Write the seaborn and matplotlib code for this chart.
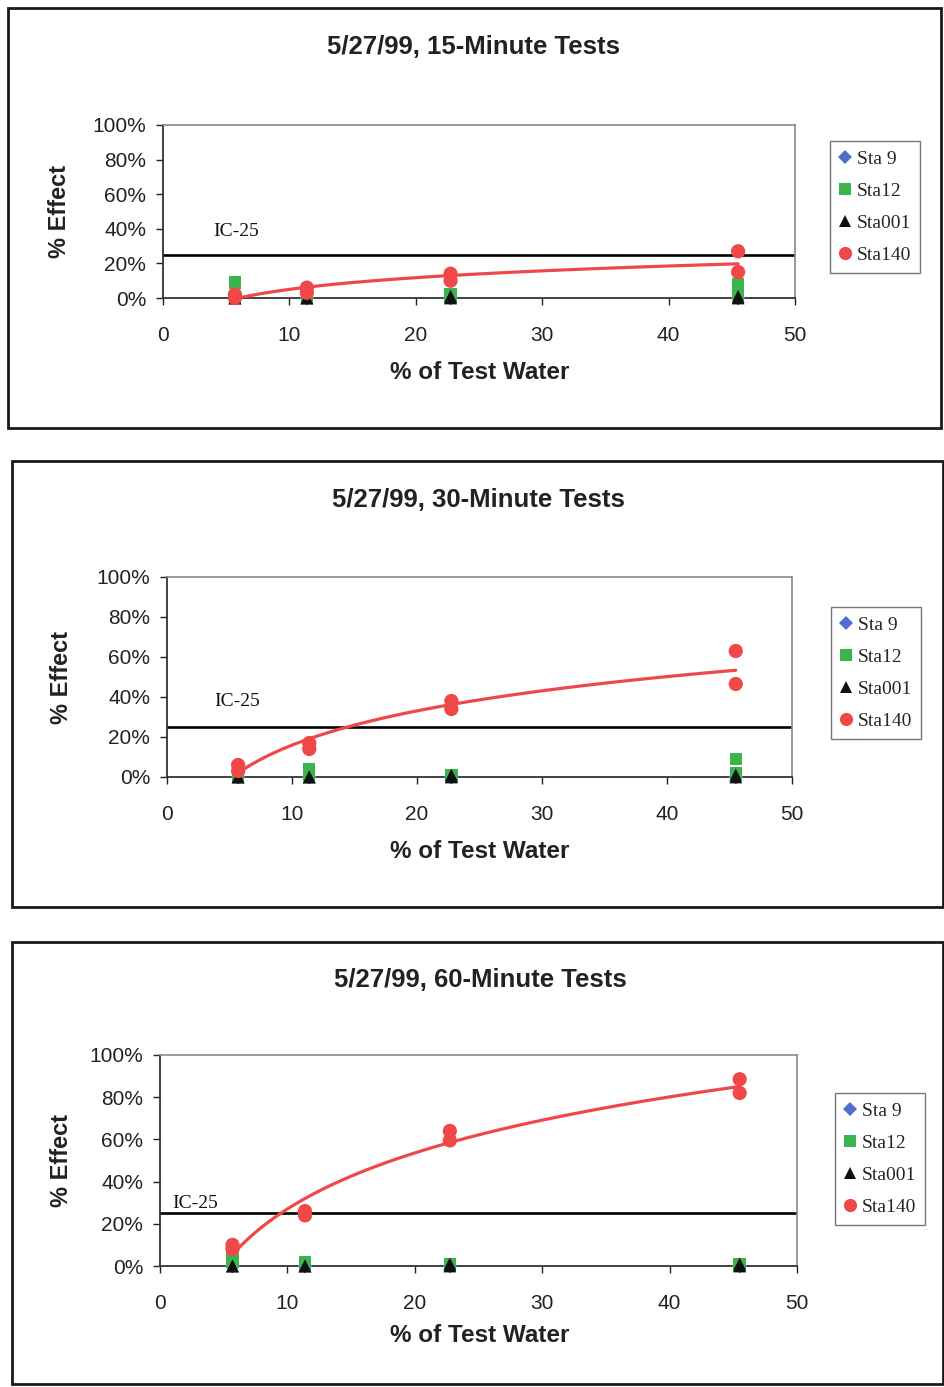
import matplotlib
matplotlib.use("Agg")
import matplotlib.pyplot as plt
import numpy as np
import pandas as pd
import seaborn as sns
from matplotlib.patches import Rectangle
from matplotlib.lines import Line2D

# ---------------- data ----------------
conc = [5.69, 5.69, 11.38, 11.38, 22.75, 22.75, 45.5, 45.5]
stations = ["Sta 9", "Sta12", "Sta001", "Sta140"]
titles = ["5/27/99, 15-Minute Tests", "5/27/99, 30-Minute Tests", "5/27/99, 60-Minute Tests"]

# 15-minute tests (% effect)
sta9_15 = [0, 0, 0, 0, 0, 0, 0, 0]
sta12_15 = [9, 0, 0, 0, 2, 0, 8, 3]
sta001_15 = [0, 0, 0, 0, 1, 0, 1, 0]
sta140_15 = [2, 0, 6, 3, 14, 10, 27, 15]

# 30-minute tests
sta9_30 = [0, 0, 0, 0, 0, 0, 0, 0]
sta12_30 = [0, 0, 4, 1, 1, 0, 9, 2]
sta001_30 = [0, 0, 0, 0, 1, 0, 1, 0]
sta140_30 = [6, 3, 17, 14, 38, 34, 63, 46.5]

# 60-minute tests
sta9_60 = [0, 0, 0, 0, 0, 0, 0, 0]
sta12_60 = [7, 2, 2, 0, 1, 0, 1, 0]
sta001_60 = [0, 0, 0, 0, 1, 0, 1, 0]
sta140_60 = [10, 8, 26, 24, 64, 59.5, 88.5, 82]

x_ticks = [0, 10, 20, 30, 40, 50]
y_ticks = [0, 20, 40, 60, 80, 100]
ic25_level = 25
ic25_label = "IC-25"
x_label = "% of Test Water"
y_label = "% Effect"

# ---------------- style ----------------
sns.set_style("white")
plt.rcParams["font.family"] = ["Liberation Sans", "DejaVu Sans"]
SERIF = ["Liberation Serif", "DejaVu Serif"]

colors = {"Sta 9": "#4f6fd0", "Sta12": "#3cb44e", "Sta001": "#111111", "Sta140": "#f04848"}
markers = {"Sta 9": "D", "Sta12": "s", "Sta001": "^", "Sta140": "o"}
sizes = {"Sta 9": 55, "Sta12": 80, "Sta001": 85, "Sta140": 105}
leg_ms = {"Sta 9": 7, "Sta12": 8.5, "Sta001": 9, "Sta140": 9.5}

W, H = 944, 1387
fig = plt.figure(figsize=(W / 100, H / 100), dpi=100)
fig.patch.set_facecolor("white")


def P(x, y):
    return x / W, 1 - y / H


panels = [
    dict(series=[sta9_15, sta12_15, sta001_15, sta140_15], box=(8, 8, 941, 428),
         ax=(163, 125, 795, 298), title_xy=(473, 47), ylab_xy=(60, 211),
         xlab_xy=(480, 373), leg_xy=(875, 207), ic_xy=(4.0, 38.5)),
    dict(series=[sta9_30, sta12_30, sta001_30, sta140_30], box=(12, 461, 943, 907),
         ax=(167, 577, 792, 777), title_xy=(478, 500), ylab_xy=(62, 677),
         xlab_xy=(480, 852), leg_xy=(876, 673), ic_xy=(3.8, 37.5)),
    dict(series=[sta9_60, sta12_60, sta001_60, sta140_60], box=(12, 942, 943, 1384),
         ax=(160, 1055, 797, 1266), title_xy=(480, 980), ylab_xy=(62, 1160),
         xlab_xy=(480, 1335), leg_xy=(880, 1159), ic_xy=(1.0, 29.5)),
]

for title, pn in zip(titles, panels):
    # panel border
    x0, y0, x1, y1 = pn["box"]
    fig.patches.append(Rectangle(P(x0, y1), (x1 - x0) / W, (y1 - y0) / H,
                                 transform=fig.transFigure, fill=False,
                                 edgecolor="#1a1a1a", linewidth=2.0))
    l, t, r, b = pn["ax"]
    ax = fig.add_axes([l / W, 1 - b / H, (r - l) / W, (b - t) / H])
    ax.set_facecolor("white")

    df = pd.DataFrame({
        "conc": conc * len(stations),
        "effect": sum(pn["series"], []),
        "station": np.repeat(stations, len(conc)),
    })

    # IC-25 reference line
    ax.axhline(ic25_level, color="black", lw=1.9, zorder=2)
    ax.text(pn["ic_xy"][0], pn["ic_xy"][1], ic25_label, family=SERIF,
            fontsize=14, ha="left", va="center", color="#111111")

    # logarithmic trend for Sta140
    red = df[df.station == "Sta140"]
    sns.regplot(data=red, x="conc", y="effect", logx=True, scatter=False, ci=None,
                color=colors["Sta140"], line_kws={"lw": 2.3, "zorder": 2.6}, ax=ax)

    for st in stations:
        sub = df[df.station == st]
        sns.scatterplot(data=sub, x="conc", y="effect", color=colors[st],
                        marker=markers[st], s=sizes[st], edgecolor="none",
                        linewidth=0, ax=ax, zorder=3, legend=False, clip_on=False)

    ax.set_xlim(0, 50)
    ax.set_ylim(0, 100)
    ax.set_xticks(x_ticks)
    ax.set_yticks(y_ticks)
    ax.set_xticklabels([str(v) for v in x_ticks])
    ax.set_yticklabels([f"{v}%" for v in y_ticks])
    ax.set_xlabel("")
    ax.set_ylabel("")
    ax.grid(False)
    ax.tick_params(axis="x", direction="out", length=5, width=1, pad=15,
                   labelsize=15, colors="#222222", bottom=True)
    ax.tick_params(axis="y", direction="out", length=5, width=1, pad=7,
                   labelsize=15, colors="#222222", left=True)
    for side in ["top", "right"]:
        ax.spines[side].set_color("#8a8a8a")
        ax.spines[side].set_linewidth(1.2)
    for side in ["left", "bottom"]:
        ax.spines[side].set_color("#333333")
        ax.spines[side].set_linewidth(1.3)

    handles = [Line2D([], [], marker=markers[s], color=colors[s], ls="None",
                      markersize=leg_ms[s], markeredgewidth=0) for s in stations]
    leg = ax.legend(handles, stations, loc="center",
                    bbox_to_anchor=P(*pn["leg_xy"]), bbox_transform=fig.transFigure,
                    frameon=True, fancybox=False, edgecolor="#777777", framealpha=1,
                    prop={"family": SERIF, "size": 14}, labelspacing=0.75,
                    handlelength=0.7, handletextpad=0.25, borderpad=0.45,
                    borderaxespad=0)
    leg.get_frame().set_linewidth(1.0)

    fig.text(*P(*pn["title_xy"]), title, ha="center", va="center",
             fontsize=18.5, fontweight="bold", color="#222222")
    fig.text(*P(*pn["xlab_xy"]), x_label, ha="center", va="center",
             fontsize=17.5, fontweight="bold", color="#222222")
    fig.text(*P(*pn["ylab_xy"]), y_label, ha="center", va="center", rotation=90,
             fontsize=17, fontweight="bold", color="#222222")

fig.savefig("out.png", dpi=100, facecolor="white")
